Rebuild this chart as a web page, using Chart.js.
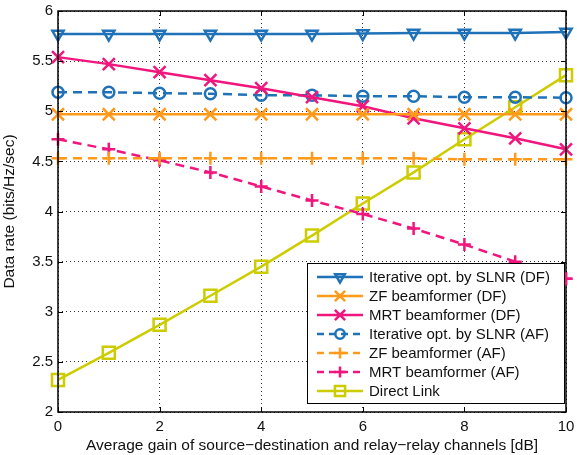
<!DOCTYPE html>
<html>
<head>
<meta charset="utf-8">
<script src="https://cdn.jsdelivr.net/npm/chart.js@4"></script>
<style>
  html, body { margin: 0; padding: 0; background: #fff; }
  #wrap { width: 577px; height: 455px; }
</style>
</head>
<body>
<div id="wrap"><canvas id="rateChart" width="577" height="455"></canvas></div>
<script>
// x axis: average gain [dB]
const gainDb = [0, 1, 2, 3, 4, 5, 6, 7, 8, 9, 10];

// data rate series (bits/Hz/sec)
const slnrDF = [5.77, 5.77, 5.77, 5.77, 5.77, 5.77, 5.775, 5.78, 5.78, 5.78, 5.79];
const zfDF   = [4.97, 4.97, 4.97, 4.97, 4.97, 4.97, 4.97, 4.97, 4.97, 4.97, 4.97];
const mrtDF  = [5.54, 5.47, 5.39, 5.31, 5.23, 5.14, 5.05, 4.93, 4.83, 4.73, 4.62];
const slnrAF = [5.19, 5.19, 5.18, 5.175, 5.16, 5.16, 5.15, 5.15, 5.14, 5.14, 5.135];
const zfAF   = [4.53, 4.53, 4.53, 4.53, 4.53, 4.53, 4.53, 4.53, 4.52, 4.52, 4.52];
const mrtAF  = [4.72, 4.62, 4.51, 4.39, 4.25, 4.11, 3.975, 3.83, 3.67, 3.50, 3.33];
const direct = [2.32, 2.59, 2.87, 3.16, 3.45, 3.76, 4.08, 4.39, 4.72, 5.04, 5.36];

const seriesLabels = [
    'Iterative opt. by SLNR (DF)',
    'ZF beamformer (DF)',
    'MRT beamformer (DF)',
    'Iterative opt. by SLNR (AF)',
    'ZF beamformer (AF)',
    'MRT beamformer (AF)',
    'Direct Link'
];

const BLUE = '#1f72b8';
const ORANGE = '#ff9a1a';
const PINK = '#f0167e';
const OLIVE = '#cccc00';
const DASH = [9, 6];
const FONT = '"Liberation Sans", Arial, sans-serif';

function toPoints(ys) {
    return ys.map((y, i) => ({ x: gainDb[i], y: y }));
}

function makeSet(label, ys, color, style, radius, dashed, rotation) {
    return {
        label: label,
        data: toPoints(ys),
        borderColor: color,
        backgroundColor: color,
        borderWidth: 2.5,
        borderDash: dashed ? DASH : [],
        pointStyle: style,
        pointRadius: radius,
        pointRotation: rotation || 0,
        pointBorderWidth: 2.5,
        pointBorderColor: color,
        pointBackgroundColor: 'rgba(0,0,0,0)',
        fill: false,
        clip: false,
        tension: 0
    };
}

const datasets = [
    makeSet(seriesLabels[0], slnrDF, BLUE, 'triangle', 6.5, false, 180),
    makeSet(seriesLabels[1], zfDF, ORANGE, 'crossRot', 8.5, false),
    makeSet(seriesLabels[2], mrtDF, PINK, 'crossRot', 8.5, false),
    makeSet(seriesLabels[3], slnrAF, BLUE, 'circle', 5.5, true),
    makeSet(seriesLabels[4], zfAF, ORANGE, 'cross', 6.5, true),
    makeSet(seriesLabels[5], mrtAF, PINK, 'cross', 6.5, true),
    makeSet(seriesLabels[6], direct, OLIVE, 'rect', 8.5, false)
];

// 프레임, 안쪽 눈금, 범례 그리기
const framePlugin = {
    id: 'frame',
    afterDraw(chart) {
        const ctx = chart.ctx;
        const a = chart.chartArea;
        const xs = chart.scales.x, ys = chart.scales.y;
        ctx.save();
        ctx.strokeStyle = '#000';
        ctx.lineWidth = 1.5;
        ctx.setLineDash([]);
        ctx.strokeRect(a.left, a.top, a.right - a.left, a.bottom - a.top);
        ctx.lineWidth = 1;
        xs.ticks.forEach(t => {
            const px = Math.round(xs.getPixelForValue(t.value)) + 0.5;
            ctx.beginPath();
            ctx.moveTo(px, a.bottom); ctx.lineTo(px, a.bottom - 5);
            ctx.moveTo(px, a.top); ctx.lineTo(px, a.top + 5);
            ctx.stroke();
        });
        ys.ticks.forEach(t => {
            const py = Math.round(ys.getPixelForValue(t.value)) + 0.5;
            ctx.beginPath();
            ctx.moveTo(a.left, py); ctx.lineTo(a.left + 5, py);
            ctx.moveTo(a.right, py); ctx.lineTo(a.right - 5, py);
            ctx.stroke();
        });

        // 범례 (오른쪽 끝 마커가 살짝 보이도록 폭을 줄임)
        const bx = 307, by = 263, bw = a.right - bx - 2, bh = 140;
        ctx.fillStyle = '#fff';
        ctx.fillRect(bx, by, bw, bh);
        ctx.strokeStyle = '#000';
        ctx.lineWidth = 1;
        ctx.strokeRect(bx + 0.5, by + 0.5, bw, bh);
        ctx.font = '15px ' + FONT;
        ctx.textBaseline = 'middle';
        chart.data.datasets.forEach((ds, i) => {
            const cy = by + 14 + i * 19;
            ctx.save();
            ctx.strokeStyle = ds.borderColor;
            ctx.fillStyle = 'rgba(0,0,0,0)';
            ctx.lineWidth = ds.borderWidth;
            ctx.setLineDash(ds.borderDash.length ? [7, 5] : []);
            ctx.beginPath();
            ctx.moveTo(bx + 10, cy); ctx.lineTo(bx + 56, cy);
            ctx.stroke();
            ctx.setLineDash([]);
            ctx.lineWidth = ds.pointBorderWidth;
            Chart.helpers.drawPoint(ctx, {
                pointStyle: ds.pointStyle,
                rotation: ds.pointRotation,
                radius: ds.pointRadius * 0.85,
                borderWidth: ds.pointBorderWidth
            }, bx + 33, cy);
            ctx.restore();
            ctx.fillStyle = '#111';
            ctx.fillText(ds.label, bx + 62, cy + 1);
        });

        // 범례 바깥으로 나온 마지막 MRT(AF) 마커
        const last = chart.getDatasetMeta(5).data[mrtAF.length - 1];
        ctx.save();
        ctx.beginPath();
        ctx.rect(bx + bw + 1, 0, chart.width, chart.height);
        ctx.clip();
        last.draw(ctx);
        ctx.restore();
        ctx.restore();
    }
};

const ctx = document.getElementById('rateChart');

new Chart(ctx, {
    type: 'line',
    data: { datasets: datasets },
    options: {
        responsive: false,
        animation: false,
        layout: { padding: 0 },
        plugins: {
            legend: { display: false },
            tooltip: { enabled: false },
            title: { display: false }
        },
        scales: {
            x: {
                type: 'linear',
                min: 0,
                max: 10,
                afterFit: s => {
                    s.height = 43;
                    s.paddingLeft = 0;
                    s.paddingRight = 9;
                    s.paddingTop = 0;
                    s.paddingBottom = 0;
                },
                ticks: {
                    stepSize: 2,
                    color: '#111',
                    padding: 6,
                    font: { family: FONT, size: 15 }
                },
                grid: { color: '#333', lineWidth: 1, drawTicks: false },
                border: { display: false, dash: [1, 3] },
                title: {
                    display: true,
                    text: 'Average gain of source\u2212destination and relay\u2212relay channels [dB]',
                    color: '#111',
                    padding: { top: 0, bottom: 0 },
                    font: { family: FONT, size: 15.5 }
                }
            },
            y: {
                min: 2,
                max: 6,
                afterFit: s => {
                    s.width = 58;
                    s.paddingTop = 1;
                    s.paddingBottom = 0;
                    s.paddingLeft = 0;
                    s.paddingRight = 0;
                },
                ticks: {
                    stepSize: 0.5,
                    color: '#111',
                    padding: 5,
                    font: { family: FONT, size: 15 },
                    callback: v => String(v)
                },
                grid: { color: '#333', lineWidth: 1, drawTicks: false },
                border: { display: false, dash: [1, 3] },
                title: {
                    display: true,
                    text: 'Data rate (bits/Hz/sec)',
                    color: '#111',
                    padding: { top: 0, bottom: 2 },
                    font: { family: FONT, size: 15.5 }
                }
            }
        }
    },
    plugins: [framePlugin]
});
</script>
</body>
</html>
